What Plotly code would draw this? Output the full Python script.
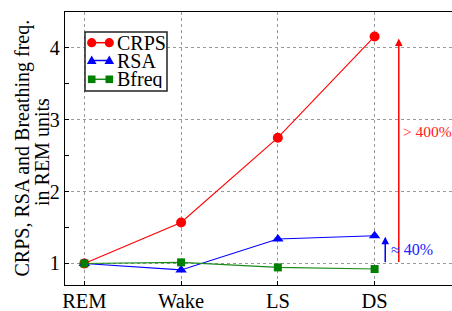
import plotly.graph_objects as go

stages = ["REM", "Wake", "LS", "DS"]
crps = [1.0, 1.57, 2.75, 4.16]
rsa = [1.0, 0.91, 1.34, 1.385]
bfreq = [1.0, 1.015, 0.945, 0.922]
yticks = [1, 2, 3, 4]
series_names = ["CRPS", "RSA", "Bfreq"]
series_colors = ["#ff0000", "#0000ff", "#008000"]
line_colors = ["#ff0000", "#0000ff", "#1a8a1a"]
series_symbols = ["circle", "triangle-up", "square"]

FONT = "Liberation Serif"
xpos = list(range(len(stages)))

# plot-area geometry in pixels
WIDTH, HEIGHT = 452, 311
ML, MR, MT, MB = 65, 0, 12, 26
PW = WIDTH - ML - MR
PH = HEIGHT - MT - MB


def px(xp):
    return (xp - ML) / PW


def py(yp):
    return (HEIGHT - MB - yp) / PH


fig = go.Figure()
for name, vals, col, lcol, sym in zip(series_names, [crps, rsa, bfreq], series_colors, line_colors, series_symbols):
    fig.add_trace(go.Scatter(x=xpos, y=vals, name=name, mode="lines+markers",
                             line=dict(color=lcol, width=1.1),
                             marker=dict(symbol=sym, size=10 if sym != "square" else 8, color=col),
                             showlegend=False, hoverinfo="skip"))

# Arrows
fig.add_annotation(x=3.25, y=4.13, ax=3.25, ay=1.0, xref="x", yref="y", axref="x", ayref="y",
                   showarrow=True, arrowhead=2, arrowsize=1, arrowwidth=1.5, arrowcolor="#ff0000", text="")
fig.add_annotation(x=3.11, y=1.37, ax=3.11, ay=1.0, xref="x", yref="y", axref="x", ayref="y",
                   showarrow=True, arrowhead=2, arrowsize=1, arrowwidth=1.5, arrowcolor="#0000ff", text="")
fig.add_annotation(x=3.27, y=2.83, xref="x", yref="y", xanchor="left", yanchor="middle",
                   text="> 400%", showarrow=False, font=dict(family=FONT, size=15.5, color="#ff2020"))
fig.add_annotation(x=3.15, y=1.19, xref="x", yref="y", xanchor="left", yanchor="middle",
                   text="≈ 40%", showarrow=False, font=dict(family=FONT, size=16, color="#2020ff"))

# Y-axis title (two lines)
fig.add_annotation(x=px(22), y=0.5, xref="paper", yref="paper", xanchor="center", yanchor="middle",
                   text="CRPS, RSA and Breathing freq.",
                   textangle=-90, showarrow=False, font=dict(family=FONT, size=20, color="black"))
fig.add_annotation(x=px(42), y=py(152), xref="paper", yref="paper", xanchor="center", yanchor="middle",
                   text="in REM units",
                   textangle=-90, showarrow=False, font=dict(family=FONT, size=20, color="black"))

# Custom legend (gnuplot style: marker-line-marker)
shapes = []
shapes.append(dict(type="rect", xref="paper", yref="paper",
                   x0=px(85), x1=px(167), y0=py(91), y1=py(32),
                   line=dict(color="#222", width=1.5), fillcolor="white", layer="above"))
rows_y = [42.7, 60.5, 79.3]
xa, xb = 91.7, 109.3
for name, col, lcol, sym, yy in zip(series_names, series_colors, line_colors, series_symbols, rows_y):
    shapes.append(dict(type="line", xref="paper", yref="paper", x0=px(xa), x1=px(xb), y0=py(yy), y1=py(yy),
                       line=dict(color=lcol, width=1.5), layer="above"))
    for xc in (xa, xb):
        if sym == "circle":
            r = 4.6
            shapes.append(dict(type="circle", xref="paper", yref="paper",
                               x0=px(xc - r), x1=px(xc + r), y0=py(yy + r), y1=py(yy - r),
                               fillcolor=col, line=dict(color=col, width=0), layer="above"))
        elif sym == "triangle-up":
            h = 4.8
            path = (f"M {px(xc - h)},{py(yy + h * 0.75)} L {px(xc + h)},{py(yy + h * 0.75)} "
                    f"L {px(xc)},{py(yy - h * 1.05)} Z")
            shapes.append(dict(type="path", xref="paper", yref="paper", path=path,
                               fillcolor=col, line=dict(color=col, width=0), layer="above"))
        else:
            s = 3.8
            shapes.append(dict(type="rect", xref="paper", yref="paper",
                               x0=px(xc - s), x1=px(xc + s), y0=py(yy + s), y1=py(yy - s),
                               fillcolor=col, line=dict(color=col, width=0), layer="above"))
    fig.add_annotation(x=px(114.5), y=py(yy), xref="paper", yref="paper", xanchor="left", yanchor="middle",
                       text=name, showarrow=False, height=18, valign="middle",
                       font=dict(family=FONT, size=20, color="black"))

fig.update_layout(
    width=WIDTH, height=HEIGHT,
    margin=dict(l=ML, r=MR, t=MT, b=MB, pad=0),
    paper_bgcolor="white", plot_bgcolor="white",
    font=dict(family=FONT, size=20, color="black"),
    showlegend=False,
    shapes=shapes,
    hovermode=False,
)

fig.update_xaxes(range=[-0.2, 3.8], tickvals=xpos, ticktext=stages,
                 showline=True, linecolor="black", linewidth=1.2, mirror=True,
                 showgrid=True, gridcolor="#999", griddash="dot", gridwidth=1,
                 ticks="inside", ticklen=4, tickcolor="black", zeroline=False,
                 ticklabelstandoff=-3,
                 tickfont=dict(family=FONT, size=20.5), automargin=False)
fig.update_yaxes(range=[0.7, 4.5], tickvals=yticks,
                 showline=True, linecolor="black", linewidth=1.2, mirror=False,
                 showgrid=True, gridcolor="#999", griddash="dot", gridwidth=1,
                 ticks="inside", ticklen=4, tickcolor="black", zeroline=False,
                 minor=dict(tickvals=[1.5, 2.5, 3.5], ticks="inside", ticklen=4, tickcolor="black", showgrid=False),
                 tickfont=dict(family=FONT, size=20), automargin=False)

fig.write_html("out.html", config={"displayModeBar": False, "staticPlot": True},
               post_script="document.body.style.margin='0';document.body.style.padding='0';")
